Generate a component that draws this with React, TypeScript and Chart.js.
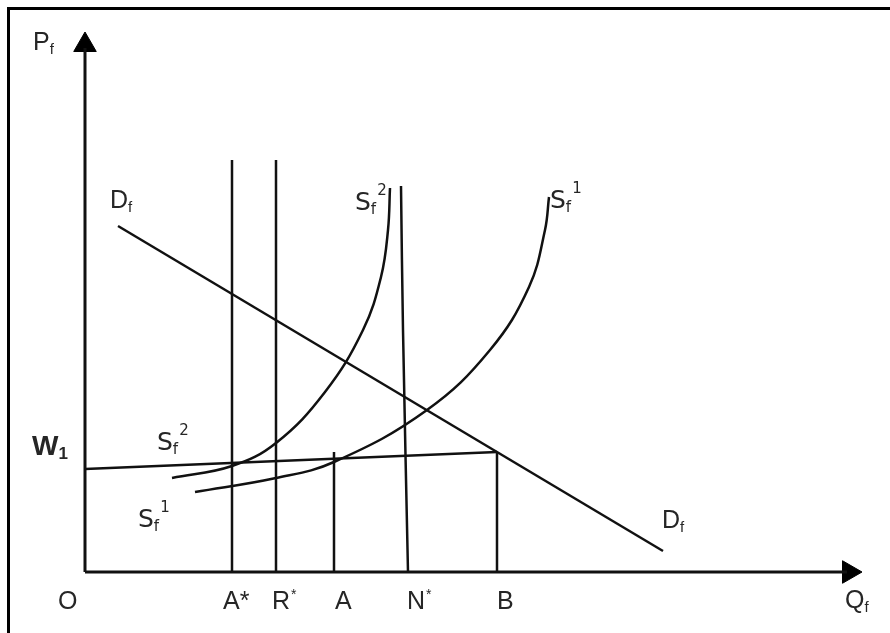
import React, { useEffect, useRef } from "react";
import { Chart, registerables } from "chart.js";

Chart.register(...registerables);

// Data coordinates: x = quantity units, y = price units (origin at O)
const xAxisLine = [{ x: 0, y: 0 }, { x: 762, y: 0 }];
const yAxisLine = [{ x: 0, y: 0 }, { x: 0, y: 524 }];
const arrowY = [{ x: 0, y: 527 }];
const arrowX = [{ x: 764, y: 0 }];

const lineAStar = [{ x: 147, y: 412 }, { x: 147, y: 0 }];
const lineRStar = [{ x: 191, y: 412 }, { x: 191, y: 0 }];
const lineA = [{ x: 249, y: 120 }, { x: 249, y: 0 }];
const lineNStar = [{ x: 316, y: 386 }, { x: 318, y: 242 }, { x: 323, y: 0 }];
const lineB = [{ x: 412, y: 120 }, { x: 412, y: 0 }];

const wageW1 = [{ x: 0, y: 103 }, { x: 412, y: 120 }];
const demandDf = [{ x: 33, y: 346 }, { x: 578, y: 21 }];

const supplySf2 = [
  { x: 87, y: 94 }, { x: 147, y: 106 }, { x: 191, y: 129 }, { x: 240, y: 180 },
  { x: 278, y: 242 }, { x: 296, y: 295 }, { x: 303, y: 342 }, { x: 305, y: 384 },
];
const supplySf1 = [
  { x: 110, y: 80 }, { x: 191, y: 94 }, { x: 249, y: 110 }, { x: 342, y: 162 },
  { x: 405, y: 222 }, { x: 444, y: 285 }, { x: 460, y: 342 }, { x: 464, y: 375 },
];

// Text annotations (anchored in data coordinates)
const labelTexts = ["P", "D", "S", "S", "W", "S", "S", "D", "O", "A*", "R", "A", "N", "B", "Q"];
const labelSubs = ["f", "f", "f", "f", "1", "f", "f", "f", "", "", "", "", "", "", "f"];
const labelSups = ["", "", "2", "1", "", "2", "1", "", "", "", "*", "", "*", "", ""];
const labelX = [-52, 25, 270, 465, -53, 72, 53, 577, -27, 138, 187, 250, 322, 412, 760];
const labelY = [522, 364, 362, 364, 117, 122, 45, 44, -37, -37, -37, -37, -37, -37, -36];
const labelBold = [false, false, false, false, true, false, false, false, false, false, false, false, false, false, false];

const frameLines = {
  id: "frameLines",
  beforeDraw(chart: any) {
    const ctx = chart.ctx;
    ctx.save();
    ctx.fillStyle = "#ffffff";
    ctx.fillRect(0, 0, chart.width, chart.height);
    ctx.strokeStyle = "#000000";
    ctx.lineWidth = 3;
    ctx.beginPath();
    ctx.moveTo(8.5, chart.height + 5);
    ctx.lineTo(8.5, 8.5);
    ctx.lineTo(chart.width + 5, 8.5);
    ctx.stroke();
    ctx.restore();
  },
};

const textLabels = {
  id: "textLabels",
  afterDatasetsDraw(chart: any) {
    const ctx = chart.ctx;
    const xs = chart.scales.x;
    const ys = chart.scales.y;
    ctx.save();
    ctx.fillStyle = "#262626";
    ctx.textBaseline = "alphabetic";
    ctx.textAlign = "left";
    for (let i = 0; i < labelTexts.length; i++) {
      const px = xs.getPixelForValue(labelX[i]);
      const py = ys.getPixelForValue(labelY[i]);
      const bold = labelBold[i] ? "bold " : "";
      const isS = labelTexts[i] === "S";
      const fam = isS ? '"DejaVu Sans", sans-serif' : '"Liberation Sans", Arial, sans-serif';
      ctx.font = `${bold}${labelBold[i] ? 28 : 25}px ${fam}`;
      ctx.fillText(labelTexts[i], px, py);
      let w = ctx.measureText(labelTexts[i]).width;
      if (labelSubs[i]) {
        ctx.font = `${bold}${labelBold[i] ? 17 : 15}px ${fam}`;
        ctx.fillText(labelSubs[i], px + w, py + 4);
        w += ctx.measureText(labelSubs[i]).width;
      }
      if (labelSups[i]) {
        ctx.font = `${labelSups[i] === "*" ? 14 : 15}px ${fam}`;
        ctx.fillText(labelSups[i], px + w + 1, py - (labelSups[i] === "*" ? 10 : 15));
      }
    }
    ctx.restore();
  },
};

function lineSet(data: any[], width: number, curved = false) {
  return {
    data,
    showLine: true,
    borderColor: "#111111",
    borderWidth: width,
    pointRadius: 0,
    fill: false,
    tension: curved ? 0.4 : 0,
    clip: false,
  };
}

export default function App() {
  const ref = useRef<HTMLCanvasElement>(null);
  useEffect(() => {
    if (!ref.current) return;
    const chart = new Chart(ref.current, {
      type: "scatter",
      data: {
        datasets: [
          lineSet(xAxisLine, 3),
          lineSet(yAxisLine, 3),
          {
            data: arrowY,
            pointStyle: "triangle",
            pointRadius: 13,
            pointRotation: 0,
            backgroundColor: "#000000",
            borderColor: "#000000",
            borderWidth: 1,
            showLine: false,
            clip: false,
          },
          {
            data: arrowX,
            pointStyle: "triangle",
            pointRadius: 13,
            pointRotation: 90,
            backgroundColor: "#000000",
            borderColor: "#000000",
            borderWidth: 1,
            showLine: false,
            clip: false,
          },
          lineSet(lineAStar, 2.5),
          lineSet(lineRStar, 2.5),
          lineSet(lineA, 2.5),
          lineSet(lineNStar, 2.5, true),
          lineSet(lineB, 2.5),
          lineSet(wageW1, 2.5),
          lineSet(demandDf, 2.5),
          lineSet(supplySf2, 2.5, true),
          lineSet(supplySf1, 2.5, true),
        ] as any,
      },
      options: {
        animation: false,
        responsive: false,
        events: [],
        layout: { padding: 0, autoPadding: false },
        plugins: { legend: { display: false }, tooltip: { enabled: false } },
        scales: {
          x: { type: "linear", min: -85, max: 805, display: false },
          y: { type: "linear", min: -61, max: 572, display: false },
        },
      },
      plugins: [frameLines, textLabels],
    });
    return () => chart.destroy();
  }, []);
  return (
    <div style={{ position: "fixed", left: 0, top: 0, width: 890, height: 633, background: "#fff" }}>
      <canvas ref={ref} width={890} height={633} style={{ display: "block" }} />
    </div>
  );
}
